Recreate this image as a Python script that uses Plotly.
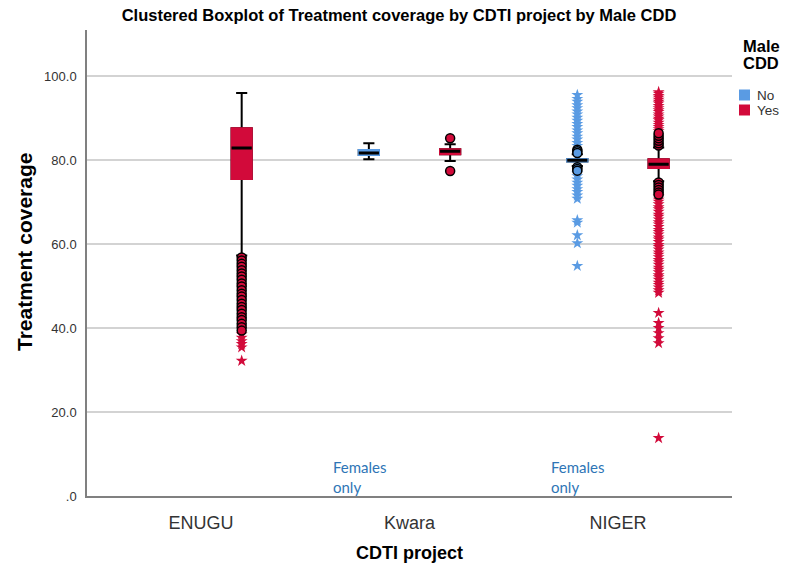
import plotly.graph_objects as go

# ---------------- data ----------------
projects = ["ENUGU", "Kwara", "NIGER"]
groups = ["No", "Yes"]
legend_title = ["Male", "CDD"]

# box statistics per (project, group): q1, median, q3, lower whisker, upper whisker
box_project = ["ENUGU", "Kwara", "Kwara", "NIGER", "NIGER"]
box_group = ["Yes", "No", "Yes", "No", "Yes"]
box_q1 = [75.5, 81.2, 81.4, 79.7, 78.1]
box_median = [82.9, 81.7, 82.1, 80.0, 79.0]
box_q3 = [87.6, 82.4, 82.6, 80.3, 80.2]
box_low = [57.3, 80.2, 79.8, 78.6, 75.0]
box_high = [96.0, 84.0, 83.8, 81.4, 83.0]

# outliers (circles) and extremes (stars)
enugu_yes_circles = [56.8, 56.1, 55.3, 54.6, 53.8, 53.0, 52.3, 51.5, 50.6, 49.9, 49.0, 48.2,
                     47.5, 46.7, 45.8, 45.0, 44.3, 43.4, 42.6, 41.9, 41.0, 40.2, 39.4]
enugu_yes_stars = [38.5, 37.7, 36.9, 36.2, 35.4, 32.2]

kwara_yes_circles = [85.2, 77.4]

niger_no_circles = [82.5, 82.1, 81.7, 78.3, 77.9, 77.5]
niger_no_stars = [95.5, 94.6, 93.9, 93.1, 92.4, 91.6, 90.9, 90.1, 89.4, 88.6, 87.9, 87.1,
                  86.4, 85.6, 84.9, 84.1, 83.4, 76.9, 76.2, 75.4, 74.6, 73.9, 73.1, 72.4,
                  71.6, 70.8, 65.7, 65.1, 62.1, 60.2, 54.8]

niger_yes_circles = [83.5, 84.0, 84.6, 85.2, 85.8, 86.4, 74.7, 74.1, 73.5, 72.9, 72.3, 71.8]
niger_yes_stars = [96.2, 95.8, 95.3, 94.9, 94.4, 93.9, 93.5, 92.9, 92.4, 91.9, 91.5, 90.9,
                   90.4, 89.9, 89.5, 88.9, 88.4, 87.9, 87.4, 86.9,
                   71.3, 70.6, 70.1, 69.5, 68.8, 68.3, 67.7, 67.0, 66.5, 65.9, 65.2, 64.7,
                   64.1, 63.4, 62.9, 62.3, 61.6, 61.1, 60.5, 59.8, 59.3, 58.7, 58.0, 57.5,
                   56.9, 56.2, 55.7, 55.1, 54.4, 53.9, 53.3, 52.6, 52.1, 51.5, 50.8, 50.3,
                   49.7, 49.0, 48.4, 43.6, 41.2, 40.0, 38.8, 37.6, 36.4, 13.8]

y_tick_vals = [0, 20, 40, 60, 80, 100]
y_tick_text = [".0", "20.0", "40.0", "60.0", "80.0", "100.0"]

note_projects = ["Kwara", "NIGER"]
note_text = "Females<br>only"

# ---------------- style ----------------
COLORS = {"No": "#5A9BE3", "Yes": "#D20A3A"}
OFFSET = {"No": -0.195, "Yes": 0.195}
NOTE_SHIFT = {"Kwara": -0.182, "NIGER": -0.136}
BOX_W = 0.097
FONT = "Liberation Sans, Arial, sans-serif"
FIG_W, FIG_H = 786, 563
M_L, M_R, M_T, M_B = 87, 54, 30, 67
PLOT_W = FIG_W - M_L - M_R
PLOT_H = FIG_H - M_T - M_B


def px_x(px):
    """figure pixel x -> paper coordinate"""
    return (px - M_L) / PLOT_W


def px_y(py):
    """figure pixel y -> paper coordinate"""
    return (M_T + PLOT_H - py) / PLOT_H


def xpos(project, group):
    return projects.index(project) + OFFSET[group]


fig = go.Figure()

for p, g, q1, md, q3, lo, hi in zip(box_project, box_group, box_q1, box_median,
                                    box_q3, box_low, box_high):
    x = [xpos(p, g)]
    c = COLORS[g]
    # whiskers + caps (black)
    fig.add_trace(go.Box(x=x, q1=[q1], median=[md], q3=[q3], lowerfence=[lo],
                         upperfence=[hi], width=BOX_W, whiskerwidth=0.55,
                         fillcolor=c, line=dict(color="black", width=2),
                         boxpoints=False, showlegend=False, hoverinfo="skip"))
    # coloured box body on top (hides black outline)
    fig.add_trace(go.Box(x=x, q1=[q1], median=[q1], q3=[q3], lowerfence=[q1],
                         upperfence=[q3], width=BOX_W, whiskerwidth=0,
                         fillcolor=c, line=dict(color=c, width=2),
                         boxpoints=False, showlegend=False, hoverinfo="skip"))
    # black median line
    fig.add_trace(go.Box(x=x, q1=[md], median=[md], q3=[md], lowerfence=[md],
                         upperfence=[md], width=BOX_W, whiskerwidth=0,
                         fillcolor="black", line=dict(color="black", width=3),
                         boxpoints=False, showlegend=False, hoverinfo="skip"))


def add_points(project, group, values, kind):
    x = [xpos(project, group)] * len(values)
    c = COLORS[group]
    if kind == "circle":
        marker = dict(symbol="circle", size=9, color=c, line=dict(color="black", width=1.5))
    else:
        marker = dict(symbol="star", size=9, color=c, line=dict(width=0))
    fig.add_trace(go.Scatter(x=x, y=values, mode="markers", marker=marker,
                             showlegend=False, hoverinfo="y"))


add_points("ENUGU", "Yes", enugu_yes_stars, "star")
add_points("ENUGU", "Yes", enugu_yes_circles, "circle")
add_points("Kwara", "Yes", kwara_yes_circles, "circle")
add_points("NIGER", "No", niger_no_stars, "star")
add_points("NIGER", "No", niger_no_circles, "circle")
add_points("NIGER", "Yes", niger_yes_stars, "star")
add_points("NIGER", "Yes", niger_yes_circles, "circle")

# ---- legend (drawn compactly, SPSS style) ----
for i, line in enumerate(legend_title):
    fig.add_annotation(x=px_x(741), y=px_y(46 + 17 * i), xref="paper", yref="paper",
                       text=f"<b>{line}</b>", showarrow=False, xanchor="left",
                       yanchor="middle", font=dict(family=FONT, size=16.5, color="black"))
for i, g in enumerate(groups):
    cy = 95 + 15 * i
    fig.add_shape(type="rect", xref="paper", yref="paper",
                  x0=px_x(739), x1=px_x(750), y0=px_y(cy - 5.5), y1=px_y(cy + 5.5),
                  fillcolor=COLORS[g], line=dict(width=0))
    fig.add_annotation(x=px_x(755), y=px_y(cy), xref="paper", yref="paper",
                       text=g, showarrow=False, xanchor="left", yanchor="middle",
                       font=dict(family=FONT, size=13.5, color="#333333"))

# "Females only" notes
for p in note_projects:
    fig.add_annotation(x=xpos(p, "No") + NOTE_SHIFT[p], y=4.5, xref="x", yref="y",
                       text=note_text, showarrow=False, xanchor="left",
                       align="left", yanchor="middle",
                       font=dict(family="Lato, sans-serif", size=15, color="#2E75B6"))

# y-axis title (slightly above the plot centre, as in the original)
fig.add_annotation(x=px_x(25), y=px_y(252), xref="paper", yref="paper",
                   text="<b>Treatment coverage</b>", textangle=-90, showarrow=False,
                   xanchor="center", yanchor="middle",
                   font=dict(family=FONT, size=21, color="black"))

fig.update_layout(
    width=FIG_W, height=FIG_H,
    paper_bgcolor="white", plot_bgcolor="white",
    margin=dict(l=M_L, r=M_R, t=M_T, b=M_B, autoexpand=False),
    boxmode="overlay",
    showlegend=False,
    title=dict(text="<b>Clustered Boxplot of Treatment coverage by CDTI project by Male CDD</b>",
               x=399 / FIG_W, xanchor="center",
               y=1 - 15 / FIG_H, yanchor="middle",
               font=dict(family=FONT, size=16.5, color="black")),
    font=dict(family=FONT, color="#333333"),
)

fig.update_xaxes(range=[-0.547, 2.547], tickvals=[0, 1, 2], ticktext=projects,
                 showgrid=False, zeroline=False, showline=True, linecolor="#808080",
                 linewidth=1.5, ticks="", tickfont=dict(size=18, color="#333333"),
                 ticklabelstandoff=10, automargin=False,
                 title=dict(text="<b>CDTI project</b>", font=dict(size=18, color="black"),
                            standoff=16))
fig.update_yaxes(range=[0, 111], tickvals=y_tick_vals, ticktext=y_tick_text,
                 showgrid=True, gridcolor="#D3D3D3", gridwidth=1.5, zeroline=False,
                 showline=True, linecolor="#808080", linewidth=1.5, ticks="",
                 tickfont=dict(size=13, color="#333333"), ticklabelstandoff=6,
                 automargin=False)

# remove the browser's default 8px page margin so the figure fills the window exactly
fig.write_html("out.html", config={"displayModeBar": False},
               post_script="document.body.style.margin='0px';")
